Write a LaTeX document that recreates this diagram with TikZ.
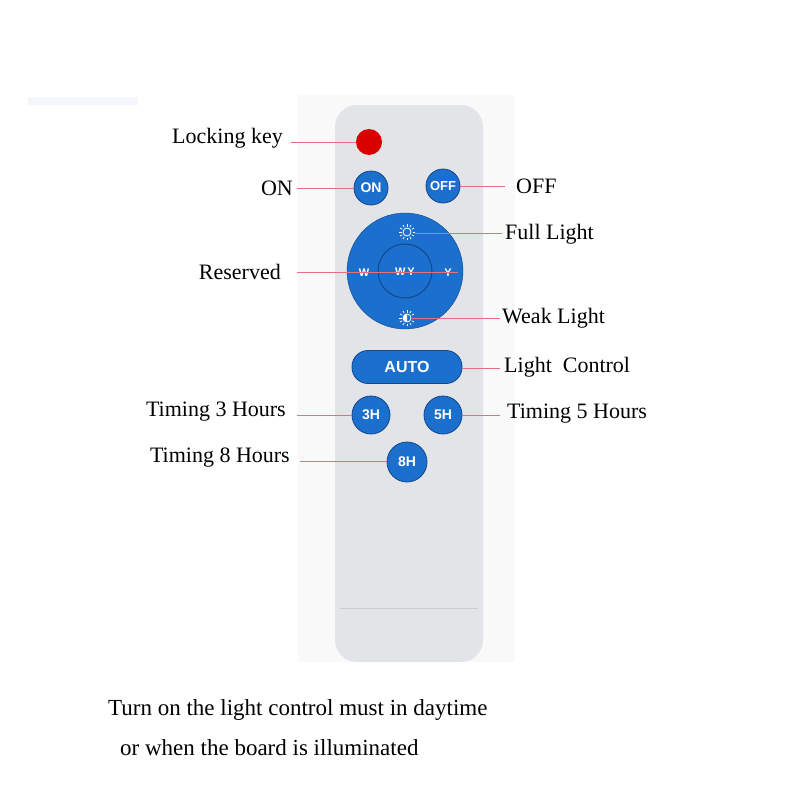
\documentclass[tikz,border=0pt]{standalone}
\usepackage{fontspec}
\setmainfont{Liberation Serif}
\setsansfont{Liberation Sans}
\usetikzlibrary{calc}
\begin{document}
\begin{tikzpicture}[x=1pt,y=-1pt,
  lbl/.style={font=\fontsize{22}{26}\selectfont,inner sep=0pt},
  lead/.style={draw=pinkline,line width=0.7pt},
  btn/.style={circle,fill=btnblue,draw=btnedge,line width=0.8pt,text=white,font=\sffamily\bfseries\fontsize{14}{15}\selectfont,inner sep=0pt},
  ico/.style={draw=white,line width=0.8pt}]
\definecolor{pinkline}{RGB}{228,110,130}
\definecolor{btnblue}{RGB}{28,112,205}
\definecolor{btnedge}{RGB}{20,70,140}
\definecolor{body}{RGB}{226,228,232}
\useasboundingbox (0,0) rectangle (800,800);
\fill[white] (0,0) rectangle (800,800);
\fill[blue!4] (28,97) rectangle (138,105);
\fill[gray!5] (298,95) rectangle (515,662);
% remote body
\fill[body] (335,105) [rounded corners=22pt] rectangle (483,662);
\draw[gray!40] (340,608) -- (478,608);
% buttons
\node[circle,fill=red!85!black,minimum size=26pt,inner sep=0pt] (lock) at (369,142) {};
\node[btn,minimum size=34pt] (on) at (371,188) {ON};
\node[btn,minimum size=34pt,font=\sffamily\bfseries\fontsize{13}{14}\selectfont] (off) at (443,186) {OFF};
\node[circle,fill=btnblue,draw=btnedge,minimum size=116pt,inner sep=0pt] (pad) at (405,271) {};
\node[circle,draw=btnedge,line width=1pt,minimum size=54pt,inner sep=0pt] (wy) at (405,271) {};
\node[text=white,font=\sffamily\bfseries\fontsize{11}{12}\selectfont] (w) at (364,273) {W};
\node[text=white,font=\sffamily\bfseries\fontsize{11}{12}\selectfont] (wyt) at (405,272) {W\,Y};
\node[text=white,font=\sffamily\bfseries\fontsize{11}{12}\selectfont] (y) at (448,273) {Y};
\node[circle,ico,minimum size=8pt,inner sep=0pt] (sun1) at (407,232) {};
\foreach \a in {0,30,...,330} \draw[white,line width=0.7pt] ($(sun1)+(\a:5.5)$) -- ($(sun1)+(\a:8)$);
\node[circle,ico,minimum size=8pt,inner sep=0pt] (sun2) at (407,318) {};
\begin{scope}
\clip (400,310) rectangle (407,326);
\fill[white] (sun2) circle (4pt);
\end{scope}
\foreach \a in {0,30,...,330} \draw[white,line width=0.7pt] ($(sun2)+(\a:5.5)$) -- ($(sun2)+(\a:8)$);
\node[fill=btnblue,draw=btnedge,line width=0.8pt,rounded corners=16pt,minimum width=110pt,minimum height=33pt,text=white,font=\sffamily\bfseries\fontsize{16}{17}\selectfont] (auto) at (407,367) {AUTO};
\node[btn,minimum size=38pt] (h3) at (371,415) {3H};
\node[btn,minimum size=38pt] (h5) at (443,415) {5H};
\node[btn,minimum size=40pt] (h8) at (407,462) {8H};
% labels
\node[lbl,anchor=east] (tlock) at (283,138) {Locking key};
\node[lbl,anchor=east] (ton) at (293,188) {ON};
\node[lbl,anchor=west] (toff) at (516,186) {OFF};
\node[lbl,anchor=west] (tfull) at (505,234) {Full Light};
\node[lbl,anchor=east] (tres) at (281,272) {Reserved};
\node[lbl,anchor=west] (tweak) at (502,318) {Weak Light};
\node[lbl,anchor=west] (tctl) at (504,367) {Light\ \ Control};
\node[lbl,anchor=east] (t3) at (286,412) {Timing 3 Hours};
\node[lbl,anchor=west] (t5) at (507,414) {Timing 5 Hours};
\node[lbl,anchor=east] (t8) at (290,458) {Timing 8 Hours};
\node[lbl,anchor=west,font=\fontsize{23}{27}\selectfont] (note1) at (108,710) {Turn on the light control must in daytime};
\node[lbl,anchor=west,font=\fontsize{23}{27}\selectfont] (note2) at (120,748) {or when the board is illuminated};
% leader ends
\coordinate (clock) at (291,142);
\coordinate (con) at (297,188);
\coordinate (coff) at (505,186);
\coordinate (cfull) at (502,233);
\coordinate (cres) at (297,272);
\coordinate (cweak) at (500,318);
\coordinate (cctl) at (500,368);
\coordinate (c3) at (297,415);
\coordinate (c5) at (500,415);
\coordinate (c8) at (300,461);
\draw[lead] (clock) -- (clock -| lock.west);
\draw[lead] (con) -- (con -| on.west);
\draw[lead] (off.east) -- (coff);
\draw[lead] (sun1.east) ++(4,1) -- (cfull);
\draw[lead] (cres) -- (458,272);
\draw[lead] (sun2.east) ++(1,0) -- (cweak);
\draw[lead] (auto.east) ++(0,1) -- (cctl);
\draw[lead] (c3) -- (h3.west);
\draw[lead] (h5.east) -- (c5);
\draw[lead] (c8) -- (c8 -| h8.west);
\end{tikzpicture}
\end{document}
